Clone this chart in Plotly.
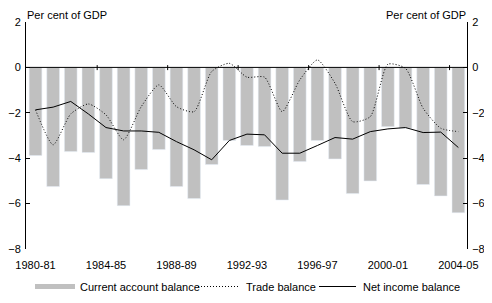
import plotly.graph_objects as go

years = ["1980-81", "1981-82", "1982-83", "1983-84", "1984-85", "1985-86", "1986-87",
         "1987-88", "1988-89", "1989-90", "1990-91", "1991-92", "1992-93", "1993-94",
         "1994-95", "1995-96", "1996-97", "1997-98", "1998-99", "1999-00", "2000-01",
         "2001-02", "2002-03", "2003-04", "2004-05"]
current_account = [-3.88, -5.25, -3.71, -3.75, -4.90, -6.09, -4.50, -3.62, -5.25, -5.78,
                   -4.28, -3.22, -3.44, -3.49, -5.84, -4.15, -3.22, -4.03, -5.56, -5.00,
                   -2.61, -2.68, -5.16, -5.66, -6.40]
trade_balance = [-1.87, -3.41, -2.05, -1.61, -2.09, -3.19, -1.73, -0.77, -1.73, -1.95,
                 -0.18, 0.18, -0.43, -0.43, -1.95, -0.55, 0.33, -0.70, -2.39, -2.17,
                 0.14, -0.04, -1.80, -2.68, -2.83]
net_income = [-1.87, -1.75, -1.50, -2.05, -2.65, -2.80, -2.80, -2.86, -3.27, -3.63,
              -4.07, -3.22, -2.94, -2.97, -3.78, -3.78, -3.44, -3.09, -3.16, -2.83,
              -2.71, -2.65, -2.87, -2.85, -3.53]
label_years = ["1980-81", "1984-85", "1988-89", "1992-93", "1996-97", "2000-01", "2004-05"]

x = list(range(len(years)))
FONT = "Liberation Sans, Arial, sans-serif"

fig = go.Figure()
fig.add_trace(go.Bar(x=x, y=current_account, marker_color="#c0c0c0", width=0.72,
                     name="Current account balance", showlegend=False))
fig.add_trace(go.Scatter(x=x, y=trade_balance, mode="lines",
                         line=dict(color="black", width=1, dash="1px,2px", shape="spline", smoothing=0.6),
                         name="Trade balance", showlegend=False))
fig.add_trace(go.Scatter(x=x, y=net_income, mode="lines", line=dict(color="black", width=1),
                         name="Net income balance", showlegend=False))
# invisible trace to bring up right axis
fig.add_trace(go.Scatter(x=[x[0]], y=[0], yaxis="y2", mode="markers", marker=dict(opacity=0),
                         showlegend=False, hoverinfo="skip"))

# zero line and x ticks every 4 years (between bars)
fig.add_shape(type="line", xref="paper", yref="y", x0=0, x1=1, y0=0, y1=0,
              line=dict(color="black", width=1), layer="above")
for t in [3.5, 7.5, 11.5, 15.5, 19.5, 23.5]:
    fig.add_shape(type="line", xref="x", yref="y", x0=t, x1=t, y0=-0.12, y1=0.1,
                  line=dict(color="black", width=1), layer="above")

# legend drawn by hand (positions relative to plot area, in px of the reference)
ly = -(286.5 - 249) / 227
fig.add_shape(type="rect", xref="paper", yref="paper", x0=(35-26)/441, x1=(75-26)/441,
              y0=-(284-249)/227, y1=-(289-249)/227, fillcolor="#c0c0c0", line_width=0)
fig.add_shape(type="line", xref="paper", yref="paper", x0=(198-26)/441, x1=(240-26)/441, y0=ly, y1=ly,
              line=dict(color="black", width=1, dash="1px,2px"))
fig.add_shape(type="line", xref="paper", yref="paper", x0=(319-26)/441, x1=(356-26)/441, y0=ly, y1=ly,
              line=dict(color="black", width=1))
for txt, px in [("Current account balance", 78), ("Trade balance", 244), ("Net income balance", 361)]:
    fig.add_annotation(text=txt, xref="paper", yref="paper", x=(px-26)/441, y=ly,
                       xanchor="left", yanchor="middle", showarrow=False, font=dict(size=11, color="black"))

for xpos, anchor in [(0, "left"), (1, "right")]:
    fig.add_annotation(text="Per cent of GDP", xref="paper", yref="paper", x=xpos, y=1.0, yshift=7,
                       xanchor=anchor, yanchor="middle", borderpad=0, showarrow=False,
                       font=dict(size=11, color="black"))

yax = dict(range=[-8, 2], tickvals=[2, 0, -2, -4, -6, -8], showgrid=False, zeroline=False,
           showline=True, linecolor="black", linewidth=1, ticks="inside", ticklen=4, tickcolor="black",
           tickfont=dict(size=11, color="black"), ticklabelstandoff=2, automargin=False, fixedrange=True)
# page body has an 8px margin, so the figure is 8px smaller than the window
fig.update_layout(
    width=484, height=295,
    margin=dict(l=18, r=25, t=14, b=54),
    plot_bgcolor="white", paper_bgcolor="white",
    font=dict(family=FONT, size=11, color="black"),
    xaxis=dict(range=[-0.54, 24.49], tickvals=[years.index(y) for y in label_years], ticktext=label_years,
               ticks="", showgrid=False, zeroline=False, showline=False, automargin=False,
               ticklabelstandoff=8, tickfont=dict(size=11, color="black")),
    yaxis=yax,
    yaxis2=dict(yax, overlaying="y", side="right"),
)
fig.write_html("out.html")
